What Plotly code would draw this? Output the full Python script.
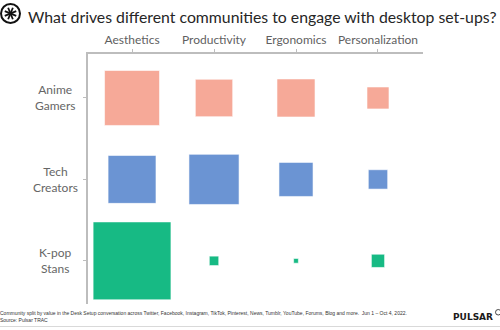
import math
import plotly.graph_objects as go

# Share of each community's desk-setup conversation by value driver (%)
drivers = ["Aesthetics", "Productivity", "Ergonomics", "Personalization"]
communities = ["Anime<br>Gamers", "Tech<br>Creators", "K-pop<br>Stans"]
anime_gamers = [47.6, 22.0, 22.8, 7.6]
tech_creators = [36.2, 39.6, 18.3, 5.9]
kpop_stans = [95.5, 1.4, 0.35, 2.75]

series = [
    (communities[0], anime_gamers, "#F6A998"),
    (communities[1], tech_creators, "#6B94D3"),
    (communities[2], kpop_stans, "#17BA84"),
]

W, H = 500, 330
ML, MR, MT, MB = 88, 77, 54, 26


def px(x):
    return (x - ML) / (W - ML - MR)


def py(y):
    return 1 - (y - MT) / (H - MT - MB)


fig = go.Figure()
for name, vals, color in series:
    fig.add_trace(go.Scatter(
        x=drivers,
        y=[name] * len(drivers),
        mode="markers",
        marker=dict(
            symbol="square",
            size=vals,
            sizemode="area",
            sizeref=2 / 63.4,
            color=color,
            opacity=1,
            line=dict(color="rgba(255,255,255,0.7)", width=0.8),
        ),
        hovertemplate="%{x}: %{marker.size}%<extra>" + name.replace("<br>", " ") + "</extra>",
        showlegend=False,
    ))

axis_col = "#BDBDBD"
fig.update_xaxes(
    type="category", categoryorder="array", categoryarray=drivers,
    range=[-0.537, 3.549], side="top",
    showline=True, linecolor=axis_col, linewidth=1.5,
    ticks="outside", ticklen=3, tickcolor=axis_col, tickwidth=1,
    showgrid=False, zeroline=False,
    tickfont=dict(family="Lato", size=12, color="#5F5F5F"),
    fixedrange=True,
)
fig.update_yaxes(
    type="category", categoryorder="array", categoryarray=communities,
    range=[2.53, -0.54],
    showline=True, linecolor=axis_col, linewidth=1.5,
    ticks="outside", ticklen=3, tickcolor=axis_col, tickwidth=1,
    showgrid=False, zeroline=False, showticklabels=False,
    fixedrange=True,
)

annotations = []
# Community labels, centred under each other
for c in communities:
    annotations.append(dict(
        x=px(55), xref="paper", y=c, yref="y",
        text=c, showarrow=False, xanchor="center", yanchor="middle",
        align="center", font=dict(family="Lato", size=12, color="#666666"),
    ))

# Title
annotations.append(dict(
    x=px(26), xref="paper", y=py(16), yref="paper",
    text="What drives different communities to engage with desktop set-ups?",
    showarrow=False, xanchor="left", yanchor="middle",
    font=dict(family="Lato", size=15.8, color="#262626"),
))

# Footnote
annotations.append(dict(
    x=px(-2), xref="paper", y=py(316.5), yref="paper",
    text=("Community split by value in the Desk Setup conversation across Twitter, Facebook, Instagram, "
          "TikTok, Pinterest, News, Tumblr, YouTube, Forums, Blog and more.  Jun 1 – Oct 4, 2022."
          "<br>Source: Pulsar TRAC"),
    showarrow=False, xanchor="left", yanchor="middle", align="left",
    font=dict(family="Liberation Sans", size=5, color="#333333"),
))

# Brand mark
annotations.append(dict(
    x=px(495), xref="paper", y=py(317), yref="paper",
    text="<b>PULSAR</b>", showarrow=False, xanchor="right", yanchor="middle",
    font=dict(family="DejaVu Sans", size=9, color="#1A1A1A"),
))

shapes = [
    # logo ring
    dict(type="circle", xref="paper", yref="paper",
         x0=px(1), x1=px(20), y0=py(23), y1=py(4),
         line=dict(color="#111111", width=2)),
    # bottom rule
    dict(type="line", xref="paper", yref="paper",
         x0=px(0), x1=px(500), y0=py(326.5), y1=py(326.5),
         line=dict(color="#D9D9D9", width=1)),
    # registered ring
    dict(type="circle", xref="paper", yref="paper",
         x0=px(495.5), x1=px(501), y0=py(315), y1=py(309.5),
         line=dict(color="#1A1A1A", width=0.8)),
]
# logo spokes
cx, cy, r = 10.5, 13.5, 6.2
for k in range(4):
    a = math.pi * k / 4 + math.pi / 8
    shapes.append(dict(
        type="line", xref="paper", yref="paper",
        x0=px(cx - r * math.cos(a)), x1=px(cx + r * math.cos(a)),
        y0=py(cy - r * math.sin(a)), y1=py(cy + r * math.sin(a)),
        line=dict(color="#111111", width=1.8),
    ))

fig.update_layout(
    width=W, height=H,
    margin=dict(l=ML, r=MR, t=MT, b=MB),
    paper_bgcolor="white", plot_bgcolor="white",
    annotations=annotations, shapes=shapes,
)

fig.write_html("out.html")
